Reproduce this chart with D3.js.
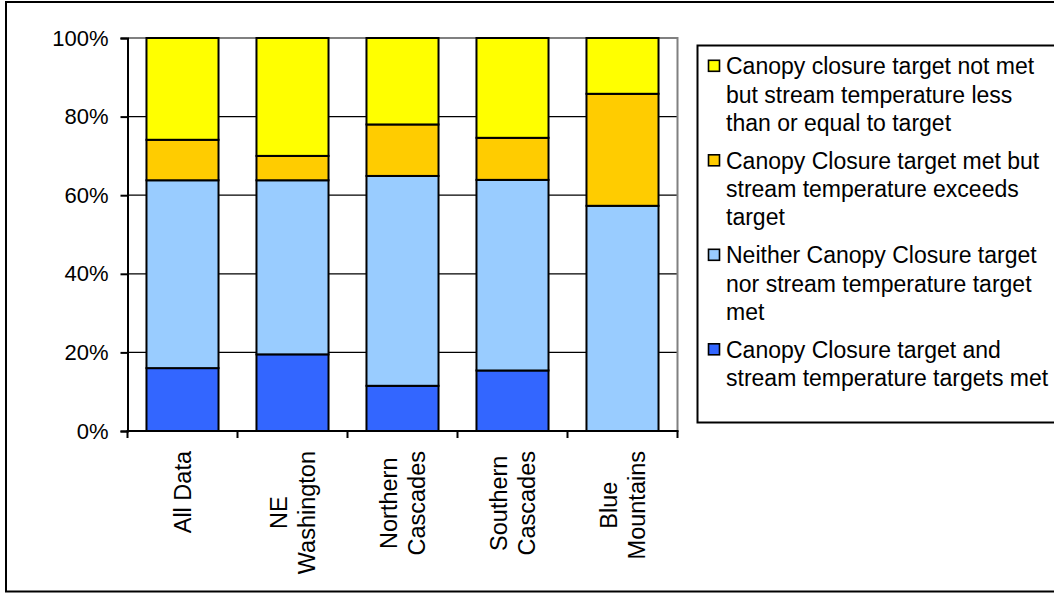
<!DOCTYPE html>
<html>
<head>
<meta charset="utf-8">
<script src="https://cdn.jsdelivr.net/npm/d3@7"></script>
<style>
  html, body { margin: 0; padding: 0; background: #fff; }
  svg { display: block; font-family: "Liberation Sans", Arial, sans-serif; }
</style>
</head>
<body>
<svg id="chart" width="1054" height="594"></svg>
<script>
// Regions (each label split into display lines)
const categories = ["All Data", "NE Washington", "Northern Cascades", "Southern Cascades", "Blue Mountains"];
const categoryLines = [["All Data"], ["NE", "Washington"], ["Northern", "Cascades"], ["Southern", "Cascades"], ["Blue", "Mountains"]];

// Percent of sites in each outcome class, stacked bottom to top
const bothMet      = [16.0, 19.5, 11.5, 15.4, 0.0];
const neitherMet   = [47.8, 44.3, 53.4, 48.5, 57.3];
const canopyOnly   = [10.3, 6.2, 13.1, 10.7, 28.5];
const tempOnly     = [25.9, 30.0, 22.0, 25.4, 14.2];

const seriesKeys = ["bothMet", "neitherMet", "canopyOnly", "tempOnly"];
const seriesColors = ["#3366FF", "#99CCFF", "#FFCC00", "#FFFF00"];
const legendLines = [
  ["Canopy closure target not met", "but stream temperature less", "than or equal to target"],
  ["Canopy Closure target met but", "stream temperature exceeds", "target"],
  ["Neither Canopy Closure target", "nor stream temperature target", "met"],
  ["Canopy Closure target and", "stream temperature targets met"]
];
const legendKeys = ["tempOnly", "canopyOnly", "neitherMet", "bothMet"];
const yTicks = [0, 20, 40, 60, 80, 100];

const table = categories.map((c, i) => ({
  category: c,
  bothMet: bothMet[i],
  neitherMet: neitherMet[i],
  canopyOnly: canopyOnly[i],
  tempOnly: tempOnly[i]
}));

const svg = d3.select("#chart");
const color = d3.scaleOrdinal().domain(seriesKeys).range(seriesColors);

// Outer frame
svg.append("rect")
  .attr("x", 6).attr("y", 2)
  .attr("width", 1060).attr("height", 589.5)
  .attr("fill", "#fff").attr("stroke", "#000").attr("stroke-width", 2);

const plot = { left: 127.5, right: 677.5, top: 38, bottom: 431 };

const x = d3.scaleBand()
  .domain(categories)
  .range([plot.left, plot.right])
  .paddingInner(0.345)
  .paddingOuter(0.1725);

const y = d3.scaleLinear().domain([0, 100]).range([plot.bottom, plot.top]);

// Gridlines
svg.append("g")
  .selectAll("line")
  .data(yTicks.filter(t => t > 0 && t < 100))
  .join("line")
  .attr("x1", plot.left).attr("x2", plot.right)
  .attr("y1", d => y(d)).attr("y2", d => y(d))
  .attr("stroke", "#000").attr("stroke-width", 1.2);

// Plot area border (top and right)
svg.append("path")
  .attr("d", `M${plot.left},${y(100)}H${plot.right}V${plot.bottom}`)
  .attr("fill", "none").attr("stroke", "#808080").attr("stroke-width", 2);

// Stacked bars
const stacked = d3.stack().keys(seriesKeys)(table);
svg.append("g")
  .selectAll("g")
  .data(stacked)
  .join("g")
  .attr("fill", d => color(d.key))
  .selectAll("rect")
  .data(d => d.filter(s => s[1] - s[0] > 0))
  .join("rect")
  .attr("x", d => x(d.data.category))
  .attr("width", x.bandwidth())
  .attr("y", d => y(d[1]))
  .attr("height", d => y(d[0]) - y(d[1]))
  .attr("stroke", "#000")
  .attr("stroke-width", 2);

// Y axis
const yAxis = svg.append("g")
  .attr("transform", `translate(${plot.left},0)`)
  .call(d3.axisLeft(y).tickValues(yTicks).tickFormat(d => d + "%").tickSize(7).tickPadding(12));
yAxis.select(".domain").attr("stroke", "#000").attr("stroke-width", 2);
yAxis.selectAll(".tick line").attr("stroke", "#000").attr("stroke-width", 2);
yAxis.selectAll(".tick text")
  .attr("font-family", "Liberation Sans, Arial, sans-serif")
  .attr("font-size", 22).attr("fill", "#000");

// X axis line and category-boundary ticks
const boundaries = d3.range(categories.length + 1).map(i => plot.left + i * x.step());
svg.append("line")
  .attr("x1", plot.left - 1).attr("x2", plot.right + 1)
  .attr("y1", plot.bottom).attr("y2", plot.bottom)
  .attr("stroke", "#000").attr("stroke-width", 2);
svg.append("g")
  .selectAll("line")
  .data(boundaries)
  .join("line")
  .attr("x1", d => d).attr("x2", d => d)
  .attr("y1", plot.bottom).attr("y2", plot.bottom + 7)
  .attr("stroke", "#000").attr("stroke-width", 2);

// Rotated category labels: lines centred within a block whose top sits below the axis
const catFont = 23.5, catLine = 28;
const labels = svg.append("g")
  .selectAll("text")
  .data(categories)
  .join("text")
  .attr("font-size", catFont)
  .attr("fill", "#000")
  .attr("text-anchor", "middle")
  .attr("transform", d => {
    const cx = x(d) + x.bandwidth() / 2;
    return `translate(${cx},${plot.bottom + 20}) rotate(-90)`;
  });
labels.each(function(d, i) {
  const lines = categoryLines[i];
  const n = lines.length;
  const spans = d3.select(this).selectAll("tspan")
    .data(lines)
    .join("tspan")
    .attr("y", (l, j) => 8 + (j - (n - 1) / 2) * catLine)
    .text(l => l);
  let maxLen = 0;
  spans.each(function() { maxLen = Math.max(maxLen, this.getComputedTextLength()); });
  spans.attr("x", -maxLen / 2);
});

// Legend
const legend = svg.append("g");
legend.append("rect")
  .attr("x", 697.5).attr("y", 45.5)
  .attr("width", 400).attr("height", 377)
  .attr("fill", "#fff").attr("stroke", "#000").attr("stroke-width", 2);

const legendLineH = 28.3, legendStart = 74.3, legendGap = 94.5;
legendKeys.forEach((k, i) => {
  const base = legendStart + i * legendGap;
  legend.append("rect")
    .attr("x", 708.5).attr("y", base - 14)
    .attr("width", 11).attr("height", 11)
    .attr("fill", color(k)).attr("stroke", "#000").attr("stroke-width", 1.6);
  const t = legend.append("text")
    .attr("font-size", 23).attr("fill", "#000");
  t.selectAll("tspan")
    .data(legendLines[i])
    .join("tspan")
    .attr("x", 726)
    .attr("y", (l, j) => base + j * legendLineH)
    .text(l => l);
});
</script>
</body>
</html>
